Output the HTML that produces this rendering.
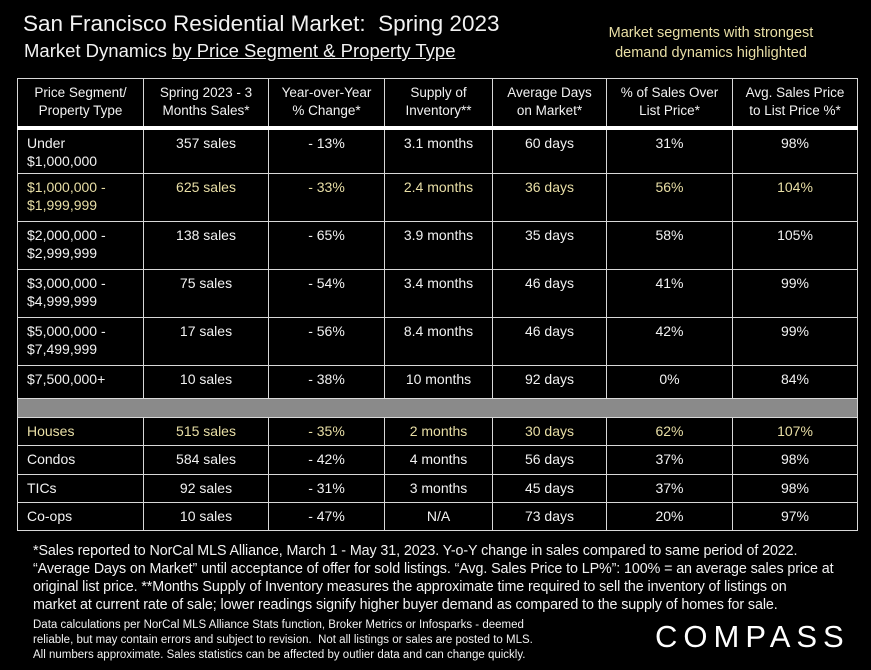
<!DOCTYPE html>
<html><head><meta charset="utf-8"><style>
html,body{margin:0;padding:0;background:#000;}
body{width:871px;height:670px;position:relative;overflow:hidden;font-family:"Liberation Sans",sans-serif;color:#f2f2f2;}
.abs{position:absolute;white-space:nowrap;}
table{position:absolute;left:17px;top:78px;border-collapse:collapse;table-layout:fixed;width:840px;}
td,th{border:1.5px solid #d8d8d8;font-size:14px;text-align:center;vertical-align:top;padding:4px 3px 0 3px;line-height:18px;font-weight:normal;overflow:hidden;white-space:nowrap;}
th{vertical-align:middle;padding:2px;border-bottom:4px solid #fff;font-size:13.5px;}
td.l{text-align:left;padding-left:9px;}
tr.hl td{color:#e9dfa6;}
tr.gap td{background:#8a8a8a;padding:0;}
</style></head><body>
<div class="abs" style="left:23px;top:11px;font-size:22.5px;">San Francisco Residential Market:&nbsp; Spring 2023</div>
<div class="abs" style="left:24px;top:40px;font-size:18.5px;">Market Dynamics <span style="text-decoration:underline">by Price Segment &amp; Property Type</span></div>
<div class="abs" style="left:604px;top:23px;width:214px;font-size:14.5px;color:#e9dfa6;text-align:center;line-height:20px;">Market segments with strongest<br>demand dynamics highlighted</div>
<table>
<colgroup><col style="width:126px"><col style="width:125px"><col style="width:116px"><col style="width:108px"><col style="width:114px"><col style="width:126px"><col style="width:125px"></colgroup>
<tr style="height:49px"><th>Price Segment/<br>Property Type</th><th>Spring 2023 - 3<br>Months Sales*</th><th>Year-over-Year<br>% Change*</th><th>Supply of<br>Inventory**</th><th>Average Days<br>on Market*</th><th>% of Sales Over<br>List Price*</th><th>Avg. Sales Price<br>to List Price %*</th></tr>
<tr style="height:46px"><td class="l">Under<br>$1,000,000</td><td>357 sales</td><td>- 13%</td><td>3.1 months</td><td>60 days</td><td>31%</td><td>98%</td></tr>
<tr class="hl" style="height:48px"><td class="l">$1,000,000 -<br>$1,999,999</td><td>625 sales</td><td>- 33%</td><td>2.4 months</td><td>36 days</td><td>56%</td><td>104%</td></tr>
<tr style="height:48px"><td class="l">$2,000,000 -<br>$2,999,999</td><td>138 sales</td><td>- 65%</td><td>3.9 months</td><td>35 days</td><td>58%</td><td>105%</td></tr>
<tr style="height:48px"><td class="l">$3,000,000 -<br>$4,999,999</td><td>75 sales</td><td>- 54%</td><td>3.4 months</td><td>46 days</td><td>41%</td><td>99%</td></tr>
<tr style="height:48px"><td class="l">$5,000,000 -<br>$7,499,999</td><td>17 sales</td><td>- 56%</td><td>8.4 months</td><td>46 days</td><td>42%</td><td>99%</td></tr>
<tr style="height:33px"><td class="l">$7,500,000+</td><td>10 sales</td><td>- 38%</td><td>10 months</td><td>92 days</td><td>0%</td><td>84%</td></tr>
<tr class="gap" style="height:19px"><td colspan="7"></td></tr>
<tr class="hl" style="height:28px"><td class="l">Houses</td><td>515 sales</td><td>- 35%</td><td>2 months</td><td>30 days</td><td>62%</td><td>107%</td></tr>
<tr style="height:29px"><td class="l">Condos</td><td>584 sales</td><td>- 42%</td><td>4 months</td><td>56 days</td><td>37%</td><td>98%</td></tr>
<tr style="height:28px"><td class="l">TICs</td><td>92 sales</td><td>- 31%</td><td>3 months</td><td>45 days</td><td>37%</td><td>98%</td></tr>
<tr style="height:28px"><td class="l">Co-ops</td><td>10 sales</td><td>- 47%</td><td>N/A</td><td>73 days</td><td>20%</td><td>97%</td></tr>
</table>
<div class="abs" style="left:33px;top:542px;font-size:14.3px;line-height:18px;letter-spacing:-0.1px;">*Sales reported to NorCal MLS Alliance, March 1 - May 31, 2023. Y-o-Y change in sales compared to same period of 2022.<br>“Average Days on Market” until acceptance of offer for sold listings. “Avg. Sales Price to LP%”: 100% = an average sales price at<br>original list price. **Months Supply of Inventory measures the approximate time required to sell the inventory of listings on<br>market at current rate of sale; lower readings signify higher buyer demand as compared to the supply of homes for sale.</div>
<div class="abs" style="left:33px;top:618px;font-size:11.5px;line-height:15px;">Data calculations per NorCal MLS Alliance Stats function, Broker Metrics or Infosparks - deemed<br>reliable, but may contain errors and subject to revision.&nbsp; Not all listings or sales are posted to MLS.<br>All numbers approximate. Sales statistics can be affected by outlier data and can change quickly.</div>
<div class="abs" style="left:655px;top:619px;font-size:31px;letter-spacing:6px;color:#fff;">COMPASS</div>
</body></html>
